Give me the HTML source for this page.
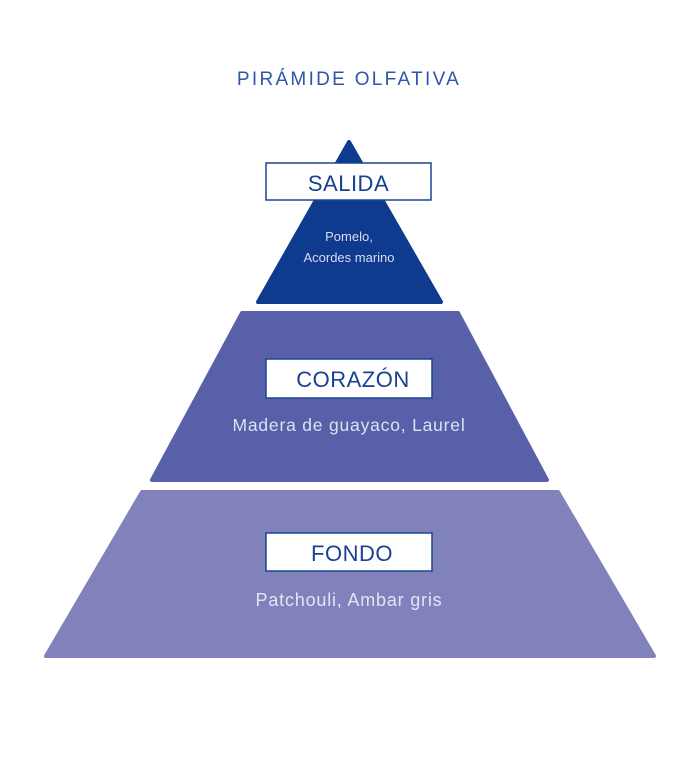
<!DOCTYPE html>
<html><head><meta charset="utf-8"><style>
html,body{margin:0;padding:0;background:#fff;}
svg{display:block;}
text{font-family:"Liberation Sans",sans-serif;}
</style></head><body>
<svg width="700" height="784" viewBox="0 0 700 784" xmlns="http://www.w3.org/2000/svg">
<rect width="700" height="784" fill="#fff"/>
<text x="349" y="85" text-anchor="middle" font-size="19" letter-spacing="2.3" fill="#2e56a6">PIRÁMIDE OLFATIVA</text>
<path d="M349 142 L441 302 L258 302 Z" fill="#0f3b8f" stroke="#0f3b8f" stroke-width="4" stroke-linejoin="round"/>
<path d="M242 313 L458 313 L547 480 L152 480 Z" fill="#5760a9" stroke="#5760a9" stroke-width="4" stroke-linejoin="round"/>
<path d="M142 492 L558 492 L654 656 L46 656 Z" fill="#8181bc" stroke="#8181bc" stroke-width="4" stroke-linejoin="round"/>
<rect x="266" y="163" width="165" height="37" fill="#fff" stroke="#1a4593" stroke-width="1.5"/>
<text x="348.5" y="191" text-anchor="middle" font-size="22" letter-spacing="0.5" fill="#1a4090">SALIDA</text>
<text x="349" y="241" text-anchor="middle" font-size="13" fill="#d8dcef">Pomelo,</text>
<text x="349" y="262" text-anchor="middle" font-size="13" fill="#d8dcef">Acordes marino</text>
<rect x="266" y="359" width="166" height="39" fill="#fff" stroke="#1a4593" stroke-width="1.5"/>
<text x="353" y="387" text-anchor="middle" font-size="22" letter-spacing="0.5" fill="#1a4090">CORAZÓN</text>
<text x="349" y="431" text-anchor="middle" font-size="17.5" letter-spacing="0.8" fill="#dfe1f1">Madera de guayaco, Laurel</text>
<rect x="266" y="533" width="166" height="38" fill="#fff" stroke="#1a4593" stroke-width="1.5"/>
<text x="352" y="561" text-anchor="middle" font-size="22" letter-spacing="0.5" fill="#1a4090">FONDO</text>
<text x="349" y="606" text-anchor="middle" font-size="18" letter-spacing="0.8" fill="#e4e5f3">Patchouli, Ambar gris</text>
</svg>
</body></html>
